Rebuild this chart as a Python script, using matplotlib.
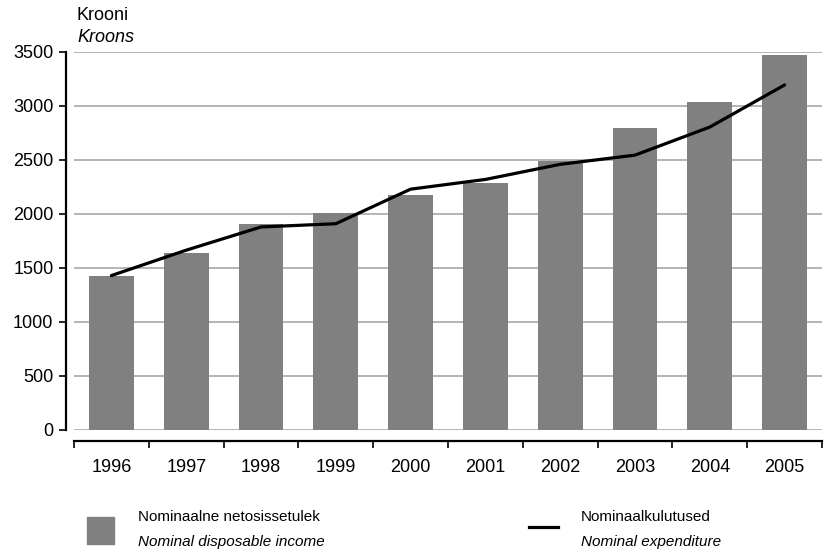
import numpy as np
import matplotlib.pyplot as plt
from matplotlib.patches import Rectangle
from matplotlib.lines import Line2D

# Data
years = ['1996', '1997', '1998', '1999', '2000', '2001', '2002', '2003', '2004', '2005']
income = [1430, 1640, 1905, 2010, 2175, 2290, 2490, 2795, 3035, 3470]
expenditure = [1430, 1665, 1880, 1910, 2230, 2320, 2460, 2545, 2805, 3195]

plt.rcParams['font.family'] = ['Liberation Sans', 'DejaVu Sans']
FS = 13
LFS = 11
W, H = 827, 555

fig = plt.figure(figsize=(W / 100, H / 100), dpi=100)
ax = fig.add_axes([74 / W, 1 - 430 / H, (822 - 74) / W, (430 - 52) / H])

x = np.arange(len(years))
ax.bar(x, income, width=0.6, color='#808080', zorder=2)
ax.plot(x, expenditure, color='black', lw=2.3, zorder=3, solid_capstyle='round')

ax.set_xlim(-0.5, len(years) - 0.5)
ax.set_ylim(0, 3500)
ax.set_yticks(range(0, 3501, 500))
ax.yaxis.grid(True, color='#a0a0a0', lw=1.1, zorder=0)
ax.set_axisbelow(True)

for s in ['top', 'right']:
    ax.spines[s].set_visible(False)
ax.spines['left'].set_position(('outward', 5.8))
ax.spines['left'].set_linewidth(1.6)
ax.spines['bottom'].set_position(('outward', 8))
ax.spines['bottom'].set_linewidth(1.6)

ax.tick_params(axis='y', length=5, width=1.2, labelsize=FS, pad=4)
ax.set_xticks(x)
ax.set_xticklabels(years)
ax.tick_params(axis='x', which='major', length=0, labelsize=FS, pad=13)
ax.set_xticks(np.arange(-0.5, len(years)), minor=True)
ax.tick_params(axis='x', which='minor', length=5, width=1.2)

fig.text(77 / W, 1 - 15 / H, 'Krooni', fontsize=FS, va='center', ha='left')
fig.text(77 / W, 1 - 38 / H, 'Kroons', fontsize=FS, style='italic', va='center', ha='left')

# Legend drawn by hand
fig.add_artist(Rectangle((87 / W, 1 - 544 / H), 27 / W, 27 / H,
                         transform=fig.transFigure, color='#808080'))
fig.text(138 / W, 1 - 517 / H, 'Nominaalne netosissetulek', fontsize=LFS, va='center')
fig.text(138 / W, 1 - 542 / H, 'Nominal disposable income', fontsize=LFS,
         style='italic', va='center')
fig.add_artist(Line2D([529 / W, 558 / W], [1 - 527 / H, 1 - 527 / H],
                      transform=fig.transFigure, color='black', lw=2.3))
fig.text(581 / W, 1 - 517 / H, 'Nominaalkulutused', fontsize=LFS, va='center')
fig.text(581 / W, 1 - 542 / H, 'Nominal expenditure', fontsize=LFS,
         style='italic', va='center')

fig.savefig('out.png', dpi=100)
